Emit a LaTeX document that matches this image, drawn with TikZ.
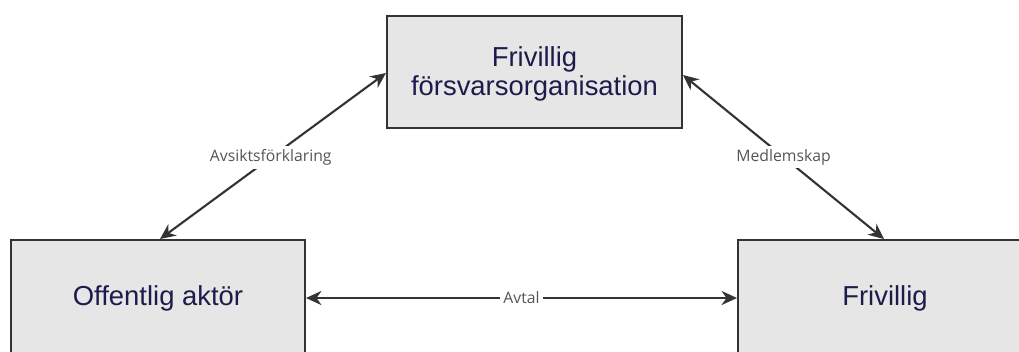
\documentclass[tikz,border=0pt]{standalone}
\usepackage{fontspec}
\setmainfont{Liberation Sans}
\newfontfamily\labelfont{Open Sans}
\usetikzlibrary{arrows.meta}
\definecolor{boxfill}{HTML}{E6E6E6}
\definecolor{boxline}{HTML}{333333}
\definecolor{txt}{HTML}{1C1C4C}
\definecolor{lbl}{HTML}{555555}
\tikzset{
  box/.style={draw=boxline, line width=1.5pt, fill=boxfill},
  boxtext/.style={text=txt, font=\fontsize{19.5}{20.5}\selectfont, align=center},
  conn/.style={draw=boxline, line width=1.5pt, {Stealth[length=11pt,width=10pt]}-{Stealth[length=11pt,width=10pt]}},
  lab/.style={fill=white, text=lbl, font=\labelfont\fontsize{11.2}{13}\selectfont, inner sep=2.5pt}
}
\begin{document}
\begin{tikzpicture}[x=0.025cm, y=-0.025cm]
\useasboundingbox (0,0) rectangle (1019,351);
\clip (0,0) rectangle (1019,351);
% boxes
\draw[box] (387,16) rectangle (682,128);
\node[boxtext] (top) at (534.5,74) {Frivillig\\försvarsorganisation};
\draw[box] (11,240) rectangle (305,360);
\node[boxtext] (left) at (158,298) {Offentlig aktör};
\draw[box] (738,240) rectangle (1032,360);
\node[boxtext] (right) at (885,298) {Frivillig};
% anchor coordinates on box borders
\coordinate (topL) at (386,73);
\coordinate (topR) at (683,75);
\coordinate (leftT) at (160,239);
\coordinate (leftR) at (306,298);
\coordinate (rightT) at (884,239);
\coordinate (rightL) at (737,298);
% connectors
\draw[conn] (leftT) -- node[lab, pos=0.49] {Avsiktsförklaring} (topL);
\draw[conn] (topR) -- node[lab, pos=0.5] {Medlemskap} (rightT);
\draw[conn] (leftR) -- node[lab] {Avtal} (rightL);
\end{tikzpicture}
\end{document}
